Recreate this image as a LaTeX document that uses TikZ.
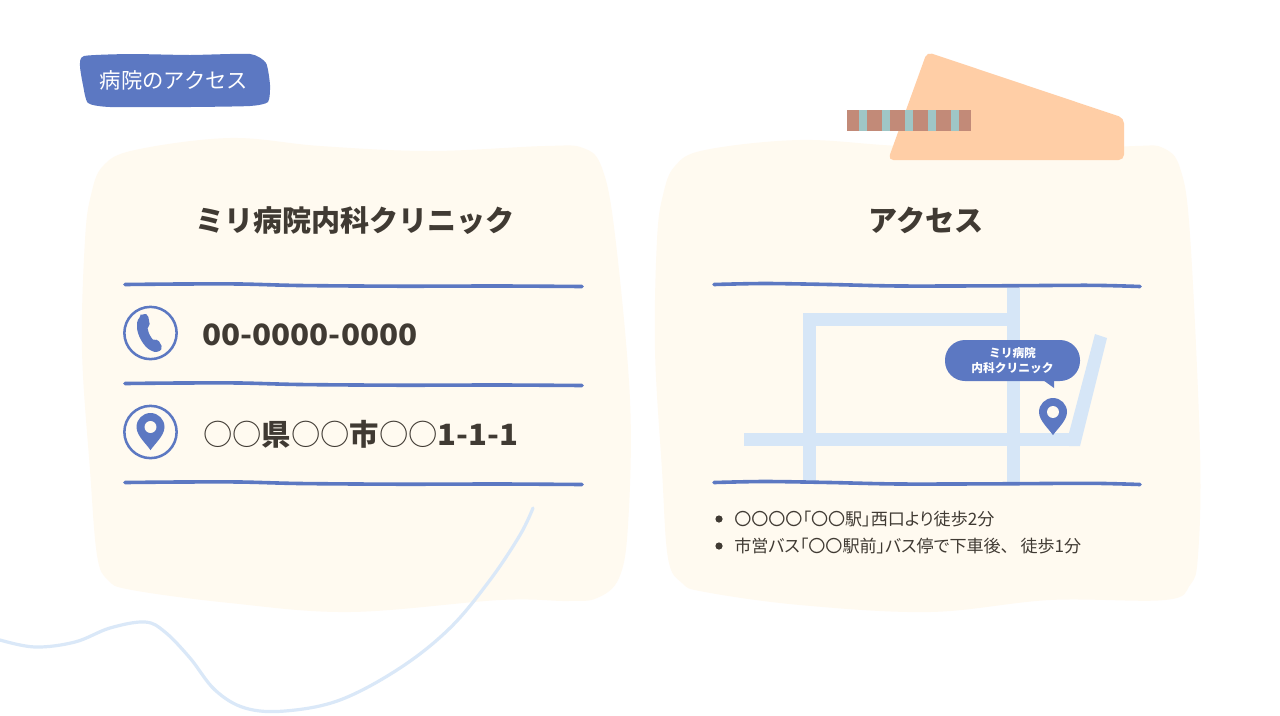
\documentclass[tikz,border=0pt]{standalone}
\usepackage{fontspec}
\setmainfont{Noto Sans CJK JP}
\newfontfamily\jp{Noto Sans CJK JP}
\newfontfamily\jpp[RawFeature=+palt]{Noto Sans CJK JP}
\newfontfamily\jpdig[FakeStretch=1.06]{Noto Sans CJK JP}
\newfontfamily\jpnum[FakeStretch=1.07]{Noto Sans CJK JP}
\usetikzlibrary{calc}
\definecolor{cblob}{HTML}{FFFAF0}
\definecolor{cblue}{HTML}{5C78C2}
\definecolor{croad}{HTML}{D6E6F7}
\definecolor{ccurve}{HTML}{DAE8F8}
\definecolor{corange}{HTML}{FFCEA6}
\definecolor{ctape}{HTML}{C28A78}
\definecolor{cstripe}{HTML}{9FC6C6}
\definecolor{ctext}{HTML}{403A33}
\tikzset{
  wavy/.style={draw=cblue,line width=2.7pt,line cap=round},
  ring/.style={draw=cblue,line width=1.9pt},
  road/.style={fill=croad,draw=none},
  titletext/.style={text=ctext,font=\jp\bfseries\fontsize{21.8pt}{26pt}\selectfont,inner sep=0pt},
  infotext/.style={text=ctext,anchor=west,inner sep=0pt,font=\jp\bfseries\fontsize{22pt}{26pt}\selectfont},
  listtext/.style={text=ctext,anchor=west,inner sep=0pt,font=\jpp\fontsize{12.8pt}{15pt}\selectfont},
  pinhole/.style={fill=cblob,draw=none},
}
\newcommand{\mypin}[3]{% x y r
  \fill[cblue] ({#1-#3},#2) arc[start angle=180,end angle=0,radius=#3*0.75pt]
    .. controls ({#1+#3},{#2+#3*0.6}) and ({#1+#3*0.35},{#2+#3*1.15}) .. (#1,{#2+#3*1.65})
    .. controls ({#1-#3*0.35},{#2+#3*1.15}) and ({#1-#3},{#2+#3*0.6}) .. ({#1-#3},#2) -- cycle;
  \fill[pinhole] (#1,#2) circle[radius=#3*0.32pt];
}
\begin{document}
\begin{tikzpicture}[x=0.75pt,y=-0.75pt]
\useasboundingbox (0,0) rectangle (1280,715);
\fill[white] (0,0) rectangle (1280,715);
% blobs
\fill[cblob] plot[smooth cycle,tension=0.6] coordinates {
 (91,195) (103,166) (135,150) (230,138) (320,146) (430,151) (545,146) (583,148) (602,168) (615,235)
 (630,400) (628,525) (619,578) (597,598) (568,601) (500,600) (350,612) (230,603) (132,590) (108,580)
 (97,555) (90,470) (82,350) (85,240)};
\fill[cblob] plot[smooth cycle,tension=0.6] coordinates {
 (663,195) (675,166) (705,150) (800,140) (900,146) (1040,151) (1135,146) (1163,148) (1180,168) (1190,235)
 (1200,450) (1198,555) (1190,585) (1165,600) (1050,600) (930,612) (800,605) (705,592) (682,583)
 (668,558) (662,470) (655,350) (657,240)};
% curve
\draw[ccurve,line width=2.4pt,line cap=round] plot[smooth,tension=0.6] coordinates {
 (0,640) (35,647) (75,642) (110,628) (145,622) (165,632) (190,658) (215,690) (245,708) (285,711) (340,700) (400,668) (450,628) (490,580) (520,535) (533,508)};
% orange sticky
\fill[corange,rounded corners=4pt] (927,52) -- (1124,118) -- (1124,160) -- (888,160) -- cycle;
% tape
\fill[ctape] (847,110) rectangle (971,131);
\foreach \sx in {859,882,905,928,951} \fill[cstripe] (\sx,110) rectangle ({\sx+8},131);
% label blob
\fill[cblue] plot[smooth cycle,tension=0.35] coordinates {
 (84,56) (130,54) (190,55) (250,54) (266,63) (270,85) (268,102) (250,106) (190,107) (110,107) (88,103) (83,85) (80,66)};
\node[inner sep=0pt,text=white,font=\jp\fontsize{16pt}{19pt}\selectfont] (label) at (174,80) {病院のアクセス};
% titles
\node[titletext] (title1) at (355,220.5) {ミリ病院内科クリニック};
\node[titletext] (title2) at (926,220.5) {アクセス};
% rules
\foreach \yy in {285,384,483} {
 \draw[wavy] plot[smooth,tension=0.5] coordinates {(125,{\yy-0.5}) (180,\yy-1) (240,\yy-1) (300,\yy+0.5) (400,\yy+1.2) (500,\yy+1) (582,\yy+1.5)};
}
% roads (below right-hand rules)
\fill[road] (1007,288) rectangle (1020,482);
\fill[road] (803,313) rectangle (1007,326);
\fill[road] (803,313) rectangle (816,482);
\fill[road] (744,433) rectangle (1080,446);
\fill[road] (1095,334) -- (1107,338) -- (1080,446) -- (1069,446) -- (1069,433) -- cycle;
\foreach \yy in {285,483} {
 \draw[wavy] plot[smooth,tension=0.5] coordinates {(714,{\yy-0.5}) (765,\yy-1.5) (830,\yy-0.5) (900,\yy+1) (1000,\yy+0.8) (1090,\yy+0.3) (1140,\yy+1.5)};
}
% icons
\draw[ring] (150.5,333) circle[radius=19.6pt];
\draw[ring] (150.5,432) circle[radius=19.6pt];
\fill[cblue,rounded corners=1.5pt] (141,316) .. controls (143,314) and (146,314) .. (148,315)
  -- (150,326) .. controls (148.5,327) and (147.5,328) .. (148,330)
  .. controls (149,334) and (151.5,338) .. (154,341)
  .. controls (155.5,340) and (157,339.5) .. (158,339.5)
  -- (162.5,347.5) .. controls (160,351.5) and (156,352.5) .. (152,351)
  .. controls (144,347) and (137,335) .. (137,325) .. controls (137,321) and (139,318) .. (141,316) -- cycle;
\mypin{150.5}{427}{14}
% info text
\node[infotext,font=\jpnum\bfseries\fontsize{22pt}{26pt}\selectfont] (tel) at (202,335) {00-0000-0000};
\node[infotext] (addr) at (203,434) {{\mdseries ○○}県{\mdseries ○○}市{\mdseries ○○}{\jpdig\bfseries 1-1-1}};
% callout
\fill[cblue,rounded corners=15pt] (945,340) rectangle (1080,381);
\fill[cblue] (1043,380) -- (1054,388) -- (1054,380) -- cycle;
\node[inner sep=0pt,text=white,align=center,font=\jp\bfseries\fontsize{8.8pt}{11.2pt}\selectfont] (callout) at (1012.5,360.5) {ミリ病院\\内科クリニック};
\mypin{1053}{412}{14}
% list
\fill[ctext] (719,519) circle[radius=2.7pt];
\fill[ctext] (719,546) circle[radius=2.7pt];
\node[listtext] (l1) at (734,519) {〇〇〇〇「〇〇駅」西口より徒歩2分};
\node[listtext] (l2) at (734,546) {市営バス「〇〇駅前」バス停で下車後、\hspace{8.5pt}徒歩1分};
\end{tikzpicture}
\end{document}
